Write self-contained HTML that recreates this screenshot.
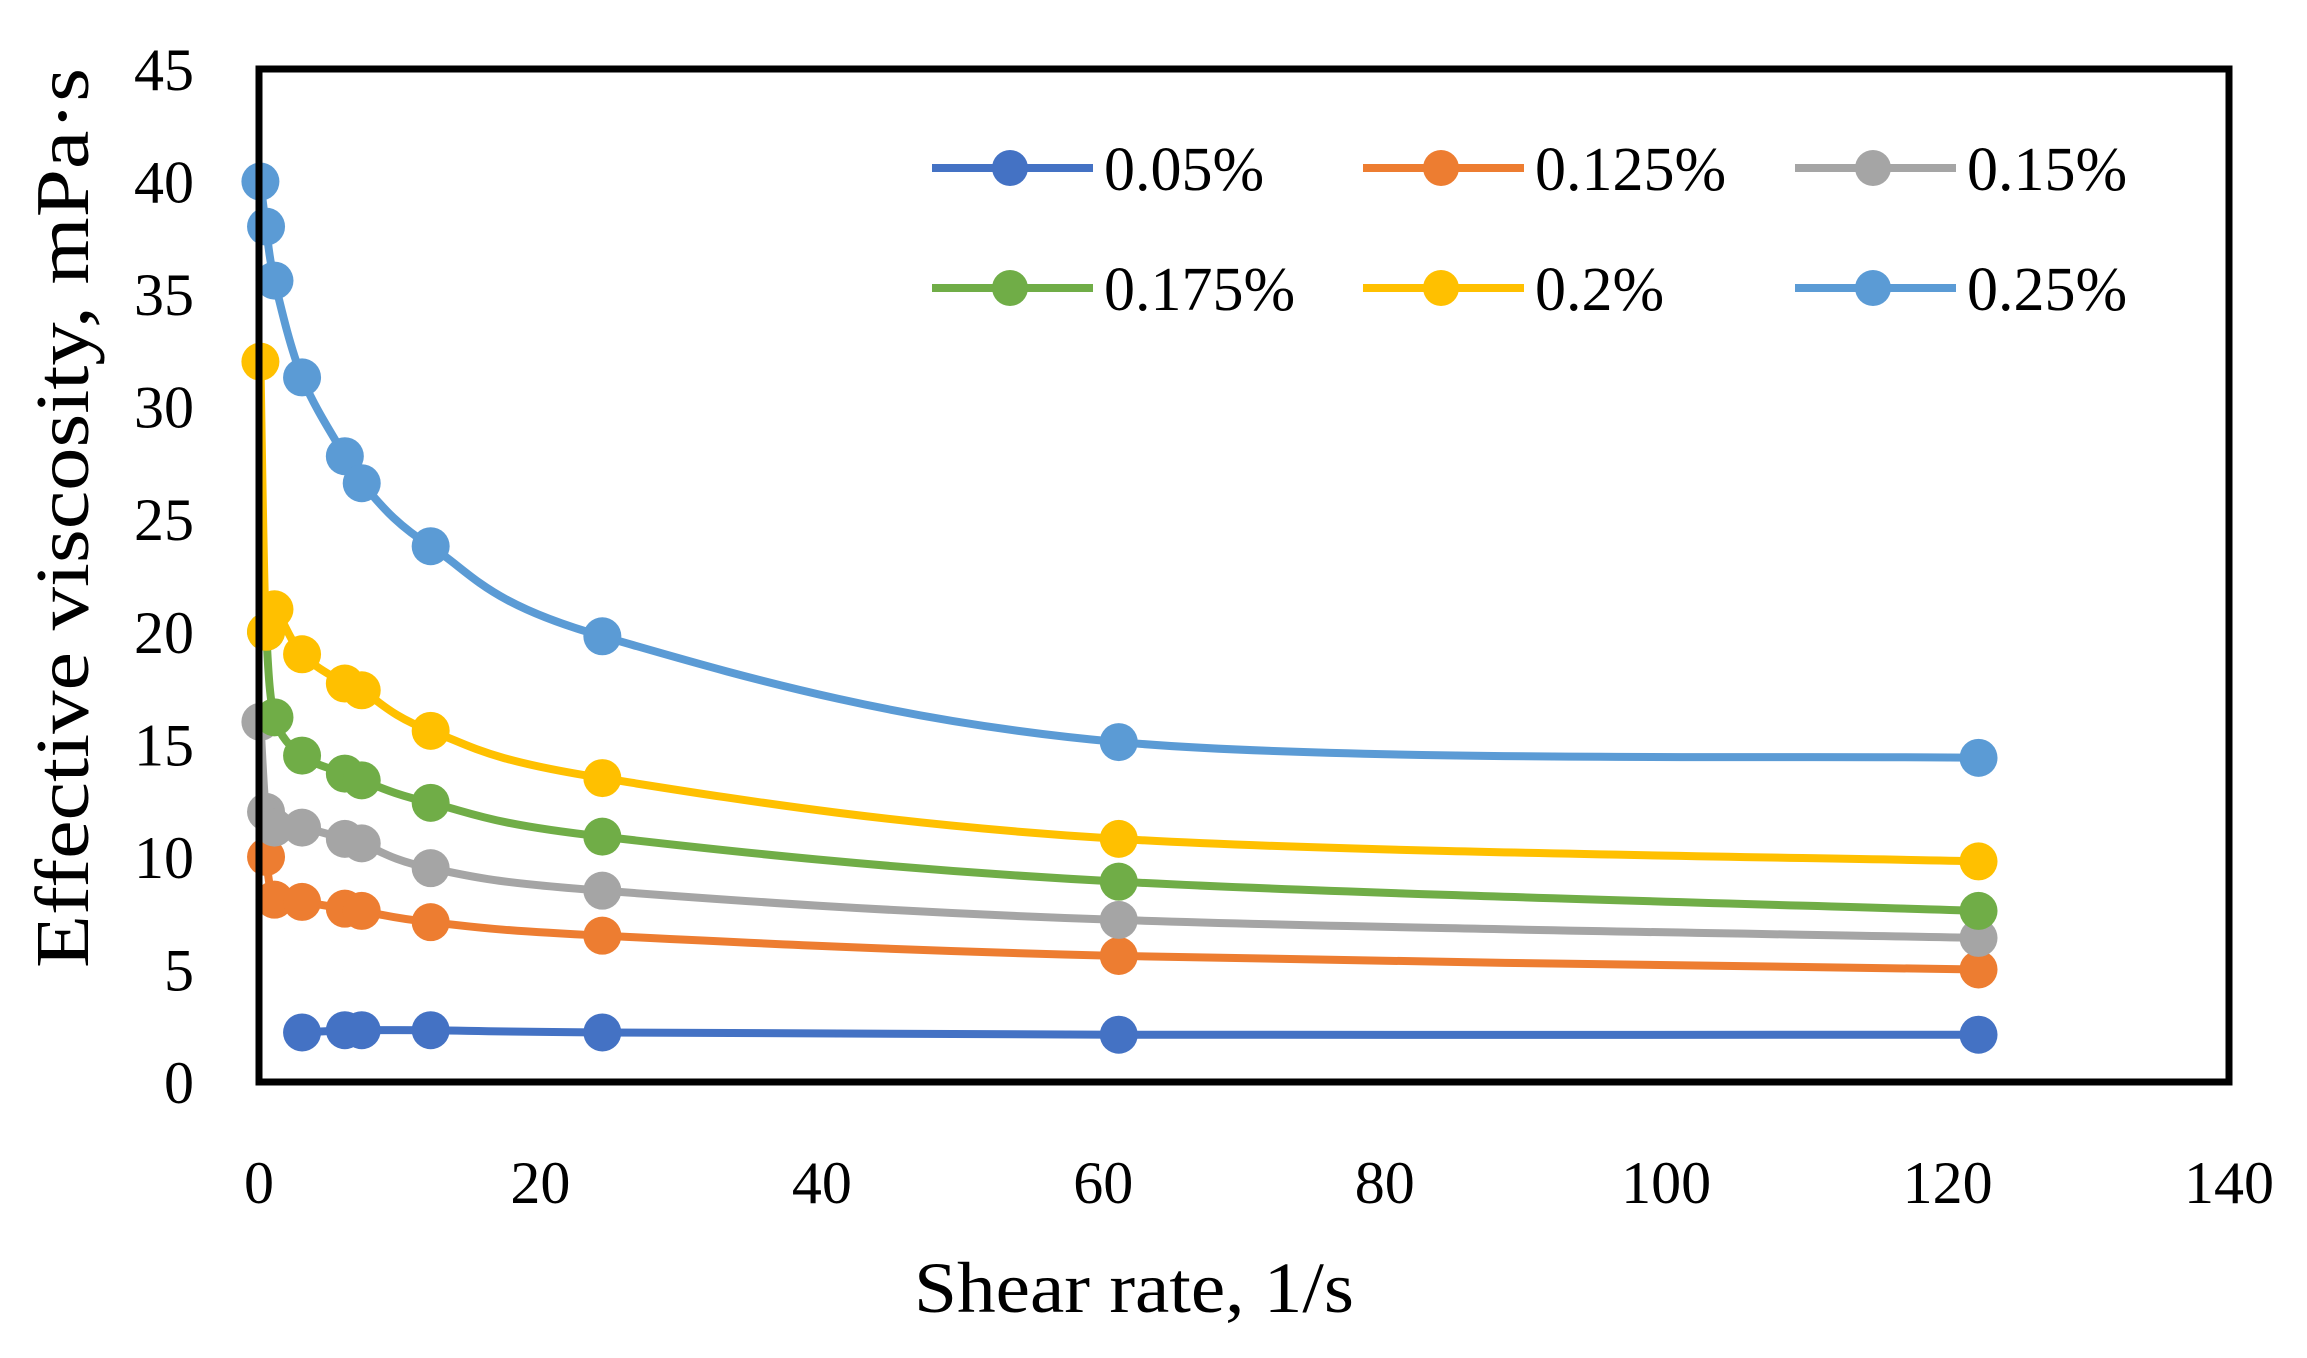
<!DOCTYPE html>
<html><head><meta charset="utf-8"><style>
html,body{margin:0;padding:0;background:#fff;}
svg{display:block;font-family:"Liberation Serif",serif;}
</style></head><body>
<svg id="chart" width="2307" height="1358" viewBox="0 0 2307 1358" xmlns="http://www.w3.org/2000/svg">
<rect x="0" y="0" width="2307" height="1358" fill="#fff"/>
<g id="series"></g>
<rect x="259" y="69" width="1970" height="1013" fill="none" stroke="#000" stroke-width="7"/>
<g id="yticks"></g>
<g id="xticks"></g>
<text x="1134" y="1312" font-size="72" text-anchor="middle" textLength="440" lengthAdjust="spacingAndGlyphs">Shear rate, 1/s</text>
<text transform="translate(88,518) rotate(-90)" font-size="76" text-anchor="middle" textLength="900" lengthAdjust="spacingAndGlyphs">Effective viscosity, mPa·s</text>
<g id="legend"></g>
</svg>
<script>
const seriesNames = ["0.05%","0.125%","0.15%","0.175%","0.2%","0.25%"];
const seriesColors = ["#4472C4","#ED7D31","#A5A5A5","#70AD47","#FFC000","#5B9BD5"];
const xs05 = [3.06,6.1,7.3,12.2,24.4,61.1,122.2];
const ys05 = [2.2,2.3,2.3,2.3,2.2,2.1,2.1];
const xs125 = [0.5,1.1,3.06,6.1,7.3,12.2,24.4,61.1,122.2];
const ys125 = [10.0,8.1,8.0,7.7,7.6,7.1,6.5,5.6,5.0];
const xs15 = [0.1,0.5,1.1,3.06,6.1,7.3,12.2,24.4,61.1,122.2];
const ys15 = [16.0,12.0,11.3,11.3,10.8,10.6,9.5,8.5,7.2,6.4];
const xs175 = [0.5,1.1,3.06,6.1,7.3,12.2,24.4,61.1,122.2];
const ys175 = [20.0,16.2,14.5,13.7,13.4,12.4,10.9,8.9,7.6];
const xs2 = [0.1,0.5,1.1,3.06,6.1,7.3,12.2,24.4,61.1,122.2];
const ys2 = [32.0,20.0,21.0,19.0,17.7,17.4,15.6,13.5,10.8,9.8];
const xs25 = [0.1,0.5,1.1,3.06,6.1,7.3,12.2,24.4,61.1,122.2];
const ys25 = [40.0,38.0,35.6,31.3,27.8,26.6,23.8,19.8,15.1,14.4];
const xTicks = [0,20,40,60,80,100,120,140];
const yTicks = [0,5,10,15,20,25,30,35,40,45];

const NS="http://www.w3.org/2000/svg";
const X0=259,X1=2229,Y0=1082,Y1=69;
const xScale=v=>X0+(v-0)/(140-0)*(X1-X0);
const yScale=v=>Y0-(v-0)/(45-0)*(Y0-Y1);
function mk(tag,attrs,parent){const e=document.createElementNS(NS,tag);for(const k in attrs)e.setAttribute(k,attrs[k]);parent.appendChild(e);return e;}

const yg=document.getElementById('yticks');
yTicks.forEach(t=>{
  const e=mk('text',{x:194,y:yScale(t)+21,'font-size':60,'text-anchor':'end'},yg);
  e.textContent=t;
  
  
});
const xg=document.getElementById('xticks');
xTicks.forEach(t=>{
  const e=mk('text',{x:xScale(t),y:1203,'font-size':60,'text-anchor':'middle'},xg);
  e.textContent=t;
  
  
});

function smoothPath(pts){
  let d=`M${pts[0][0]},${pts[0][1]}`;
  for(let i=0;i<pts.length-1;i++){
    const p0=pts[Math.max(i-1,0)],p1=pts[i],p2=pts[i+1],p3=pts[Math.min(i+2,pts.length-1)];
    const t=0.17;
    const c1=[p1[0]+(p2[0]-p0[0])*t,p1[1]+(p2[1]-p0[1])*t];
    const c2=[p2[0]-(p3[0]-p1[0])*t,p2[1]-(p3[1]-p1[1])*t];
    d+=` C${c1[0]},${c1[1]} ${c2[0]},${c2[1]} ${p2[0]},${p2[1]}`;
  }
  return d;
}
const allX=[xs05,xs125,xs15,xs175,xs2,xs25];
const allY=[ys05,ys125,ys15,ys175,ys2,ys25];
const sg=document.getElementById('series');
allX.forEach((xa,s)=>{
  const g=mk('g',{},sg);
  
  
  const pts=xa.map((x,i)=>[xScale(x),yScale(allY[s][i])]);
  const p=mk('path',{d:smoothPath(pts),fill:'none',stroke:seriesColors[s],'stroke-width':8,'stroke-linejoin':'round'},g);
  
  
  pts.forEach(pt=>{
    const c=mk('circle',{cx:pt[0],cy:pt[1],r:19,fill:seriesColors[s]},g);
    
    
  });
});

const lg=document.getElementById('legend');
const colX=[932,1363,1795], rowY=[168,288];
seriesNames.forEach((n,i)=>{
  const cx=colX[i%3], cy=rowY[Math.floor(i/3)];
  const g=mk('g',{},lg);
  
  
  mk('line',{x1:cx,y1:cy,x2:cx+161,y2:cy,stroke:seriesColors[i],'stroke-width':8},g);
  mk('circle',{cx:cx+78,cy:cy,r:18,fill:seriesColors[i]},g);
  const t=mk('text',{x:cx+172,y:cy+22,'font-size':62},g);
  t.textContent=n;
});
</script>
</body></html>
